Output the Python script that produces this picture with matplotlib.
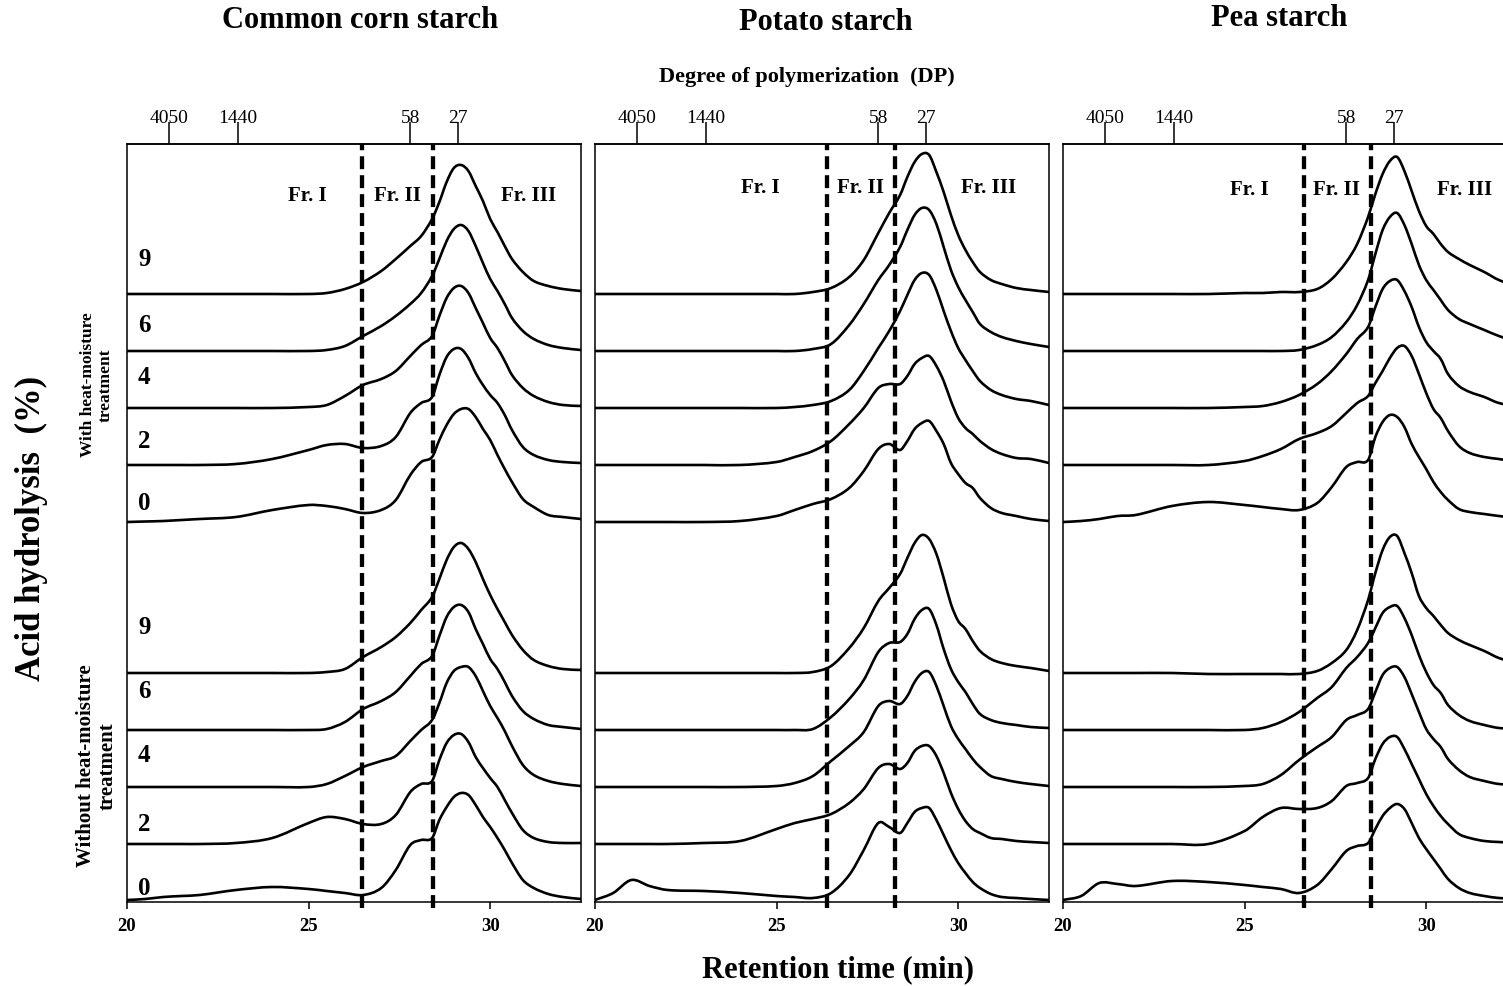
import matplotlib
matplotlib.use("Agg")
import matplotlib.pyplot as plt
from matplotlib.path import Path
from matplotlib.patches import PathPatch

plt.rcParams["font.family"] = ["Liberation Serif", "DejaVu Serif"]

# retention time grid (min) shared by every chromatogram
RT = [20.0, 20.5, 21.0, 21.5, 22.0, 23.0, 24.0, 25.0, 25.5, 26.0, 26.5, 27.0,
      27.4, 27.8, 28.1, 28.4, 28.6, 28.8, 29.0, 29.2, 29.4, 29.6, 29.8, 30.0,
      30.2, 30.4, 30.6, 30.9, 31.2, 31.6, 32.0, 32.5]

LEVELS = ["9", "6", "4", "2", "0"]

# baseline of each trace (stack offset), top to bottom
BASE_WITH = [608, 551, 494, 437, 380]
BASE_WITHOUT = [229, 172, 115, 58, 2]

DP_TICKS = [21.15, 23.05, 27.8, 29.1]
DP_LABELS = ["4050", "1440", "58", "27"]

# detector response above baseline, rows ordered 9, 6, 4, 2, 0 % hydrolysis
CORN_WITH = [
    [0, 0, 0, 0, 0, 0, 0, 0, 1, 5, 12, 23, 35, 48, 58, 75, 92, 112, 126, 129, 123, 108, 93, 75, 62, 48, 35, 22, 13, 8, 5, 3],
    [0, 0, 0, 0, 0, 0, 0, 0, 1, 5, 15, 25, 35, 47, 58, 75, 92, 110, 122, 126, 120, 105, 88, 72, 60, 47, 33, 20, 12, 6, 3, 1],
    [0, 0, 0, 0, 0, 0, 0, 1, 3, 12, 23, 29, 37, 52, 63, 72, 92, 110, 120, 122, 115, 100, 85, 70, 60, 47, 33, 20, 12, 6, 3, 2],
    [0, 0, 0, 0, 0, 1, 6, 15, 20, 21, 17, 19, 28, 52, 62, 68, 90, 108, 116, 116, 107, 92, 80, 70, 62, 50, 35, 18, 10, 5, 3, 2],
    [0, 0.5, 1, 2, 3, 5, 12, 17, 16, 13, 9, 12, 22, 47, 60, 65, 82, 97, 108, 113, 113, 105, 93, 82, 67, 53, 40, 23, 15, 7, 5, 3],
]
CORN_WITHOUT = [
    [0, 0, 0, 0, 0, 0, 0, 0, 1, 4, 16, 26, 36, 50, 63, 76, 94, 113, 126, 130, 124, 111, 94, 78, 64, 51, 38, 23, 13, 7, 4, 3],
    [0, 0, 0, 0, 0, 0, 0, 0, 1, 8, 21, 29, 38, 54, 66, 74, 94, 113, 123, 125, 118, 101, 86, 71, 61, 48, 34, 19, 11, 5, 3, 1],
    [0, 0, 0, 0, 0, 0, 0, 0, 3, 11, 20, 26, 31, 46, 57, 67, 84, 104, 116, 120, 120, 111, 96, 81, 69, 56, 41, 22, 12, 6, 3, 1],
    [0, 0, 0, 0, 0, 1, 6, 21, 27, 25, 20, 20, 29, 52, 60, 63, 84, 101, 109, 110, 102, 87, 76, 66, 57, 44, 31, 14, 6, 2, 1, 1],
    [0, 1, 3, 4, 5, 10, 13, 11, 9, 7, 5, 12, 30, 55, 60, 62, 80, 93, 103, 107, 105, 95, 83, 73, 62, 50, 37, 20, 12, 6, 3, 1],
]

POTATO_WITH = [
    [0, 0, 0, 0, 0, 0, 0, 0, 0, 2, 6, 17, 34, 61, 81, 99, 117, 132, 140, 139, 122, 102, 79, 59, 44, 32, 22, 14, 10, 6, 4, 2],
    [0, 0, 0, 0, 0, 0, 0, 0, 0, 2, 7, 26, 47, 71, 86, 104, 121, 136, 143, 141, 127, 104, 81, 64, 51, 39, 27, 19, 14, 10, 7, 4],
    [0, 0, 0, 0, 0, 0, 0, 0, 1, 3, 7, 18, 37, 60, 77, 97, 113, 128, 135, 133, 118, 97, 77, 60, 48, 37, 27, 18, 13, 9, 7, 3],
    [0, 0, 0, 0, 0, 0, 0, 3, 8, 14, 24, 41, 57, 77, 81, 81, 89, 101, 107, 109, 99, 84, 64, 47, 37, 31, 24, 16, 11, 7, 6, 2],
    [0, 0, 0, 0, 0, 0, 1, 6, 12, 18, 23, 34, 51, 73, 78, 72, 81, 93, 99, 101, 91, 78, 59, 48, 39, 34, 24, 14, 9, 6, 3, 1],
]
POTATO_WITHOUT = [
    [0, 0, 0, 0, 0, 0, 0, 0, 0, 1, 7, 25, 45, 72, 85, 99, 115, 130, 138, 134, 119, 95, 69, 52, 44, 32, 22, 14, 10, 7, 5, 2],
    [0, 0, 0, 0, 0, 0, 0, 0, 0, 1, 13, 31, 50, 78, 87, 88, 96, 111, 120, 121, 105, 81, 61, 48, 38, 26, 16, 10, 7, 5, 3, 2],
    [0, 0, 0, 0, 0, 0, 0, 1, 4, 11, 26, 41, 55, 81, 86, 83, 91, 105, 114, 115, 101, 81, 61, 48, 38, 28, 20, 11, 8, 5, 3, 1],
    [0, 0, 0, 0, 0, 1, 3, 15, 21, 25, 30, 41, 55, 76, 80, 75, 81, 93, 98, 98, 88, 71, 51, 35, 23, 15, 11, 6, 5, 3, 2, 1],
    [0, 7, 20, 14, 10, 9, 7, 4, 3, 2, 7, 25, 50, 77, 73, 67, 77, 88, 92, 92, 80, 65, 50, 37, 27, 18, 12, 6, 3, 2, 1, 0],
]

PEA_WITH = [
    [0, 0, 0, 0, 0, 0, 0, 1, 1, 2, 2, 5, 15, 32, 50, 77, 100, 120, 133, 137, 123, 103, 83, 68, 60, 50, 42, 35, 29, 22, 14, 8],
    [0, 0, 0, 0, 0, 0, 0, 0, 0, 0, 1, 6, 14, 29, 46, 71, 97, 121, 134, 138, 126, 107, 86, 71, 61, 51, 41, 32, 27, 21, 15, 9],
    [0, 0, 0, 0, 0, 0, 0, 1, 2, 6, 13, 24, 37, 54, 69, 81, 101, 119, 127, 128, 117, 101, 81, 66, 57, 49, 34, 22, 16, 11, 5, 2],
    [0, 0, 0, 0, 0, 0, 0, 4, 9, 16, 26, 32, 39, 52, 62, 69, 82, 94, 107, 117, 119, 109, 91, 72, 56, 47, 34, 19, 12, 8, 6, 3],
    [0, 1, 3, 6, 7, 16, 20, 17, 15, 13, 12, 19, 35, 55, 60, 62, 85, 100, 107, 105, 95, 78, 65, 53, 40, 30, 22, 13, 10, 8, 6, 4],
]
PEA_WITHOUT = [
    [0, 0, 0, 0, 0, 0, -1, -1, -1, -1, -1, 2, 10, 23, 43, 73, 100, 123, 136, 137, 120, 100, 77, 65, 57, 48, 40, 33, 28, 22, 15, 10],
    [0, 0, 0, 0, 0, 0, 0, 0, 2, 8, 18, 32, 43, 62, 73, 87, 102, 117, 123, 124, 112, 95, 75, 58, 45, 37, 25, 15, 9, 5, 2, 1],
    [0, 0, 0, 0, 0, 0, 0, 1, 3, 12, 27, 40, 50, 67, 72, 78, 95, 112, 119, 120, 110, 93, 75, 58, 48, 40, 28, 17, 10, 6, 3, 2],
    [0, 0, 0, 0, 0, 0, 0, 13, 27, 36, 35, 36, 43, 58, 61, 66, 85, 100, 107, 107, 95, 80, 65, 50, 38, 28, 20, 10, 6, 3, 2, 1],
    [0, 4, 17, 16, 14, 19, 18, 15, 13, 11, 7, 15, 31, 49, 54, 57, 71, 84, 92, 96, 91, 77, 62, 51, 41, 31, 21, 12, 7, 4, 2, 1],
]

# panel title, traces with / without HMT, fraction boundaries (min)
PANELS = [
    ("Common corn starch", CORN_WITH, CORN_WITHOUT, (26.47, 28.43)),
    ("Potato starch", POTATO_WITH, POTATO_WITHOUT, (26.38, 28.27)),
    ("Pea starch", PEA_WITH, PEA_WITHOUT, (26.63, 28.48)),
]

W, H = 1503, 987


def fx(px):
    return px / W


def fy(py):
    return 1 - py / H


def smooth_path(xs, ys):
    """Smoothed line through the points (cubic Hermite drawn as Bezier)."""
    n = len(xs)
    slopes = []
    for k in range(n):
        a = max(k - 1, 0)
        b = min(k + 1, n - 1)
        slopes.append((ys[b] - ys[a]) / (xs[b] - xs[a]))
    verts = [(xs[0], ys[0])]
    codes = [Path.MOVETO]
    for k in range(n - 1):
        h = xs[k + 1] - xs[k]
        verts += [(xs[k] + h / 3, ys[k] + slopes[k] * h / 3),
                  (xs[k + 1] - h / 3, ys[k + 1] - slopes[k + 1] * h / 3),
                  (xs[k + 1], ys[k + 1])]
        codes += [Path.CURVE4] * 3
    return Path(verts, codes)


fig = plt.figure(figsize=(W / 100, H / 100), dpi=100)

panel_left = [127, 595, 1063]
title_pos = [(360, 20), (826, 23), (1279, 19)]
fr_pos = [((24.96, 27.44, 31.05), 707), ((24.56, 27.31, 30.85), 715),
          ((25.14, 27.53, 31.07), 713)]

for i, (title, with_hmt, without_hmt, bounds) in enumerate(PANELS):
    ax = fig.add_axes([fx(panel_left[i]), fy(903), fx(454), 758 / H])
    for rows, bases in ((with_hmt, BASE_WITH), (without_hmt, BASE_WITHOUT)):
        for row, base in zip(rows, bases):
            trace = smooth_path(RT, [base + v for v in row])
            ax.add_patch(PathPatch(trace, fill=False, edgecolor="black",
                                   lw=1.9, joinstyle="round",
                                   capstyle="round"))
    for b in bounds:
        ax.axvline(b, ymin=-0.008, ymax=1, color="black", lw=3.1,
                   ls=(0, (3.0, 1.4)), clip_on=False, zorder=3)

    ax.set_xlim(20, 32.5)
    ax.set_ylim(0, 758)
    ax.set_yticks([])
    ax.set_xticks([20, 25, 30])
    ax.set_xticklabels(["20", "25", "30"], fontsize=13.5, fontweight="bold")
    ax.tick_params(axis="x", direction="out", length=5, width=1.1, pad=6)
    for s in ax.spines.values():
        s.set_linewidth(1.1)

    top = ax.secondary_xaxis("top")
    top.set_xticks(DP_TICKS)
    top.set_xticklabels(DP_LABELS, fontsize=14)
    top.tick_params(direction="out", length=16, width=1.1, pad=-3)
    top.spines["top"].set_linewidth(1.1)

    xs, ylab = fr_pos[i]
    for x, lab in zip(xs, ["Fr. I", "Fr. II", "Fr. III"]):
        ax.text(x, ylab, lab, fontsize=15, fontweight="bold",
                ha="center", va="center")

    tx, ty = title_pos[i]
    fig.text(fx(tx), fy(ty), title, fontsize=22, fontweight="bold",
             ha="center", va="center")

    if i == 0:
        label_y = [644, 578, 525, 461, 400, 275, 211, 147, 78, 14]
        for lab, yy in zip(LEVELS + LEVELS, label_y):
            ax.text(20.48, yy, lab, fontsize=18, fontweight="bold",
                    ha="center", va="center")

fig.text(fx(807), fy(77), "Degree of polymerization  (DP)", fontsize=16,
         fontweight="bold", ha="center", va="center")
fig.text(fx(838), fy(970), "Retention time (min)", fontsize=22,
         fontweight="bold", ha="center", va="center")
fig.text(fx(31), fy(528), "Acid hydrolysis  (%)", fontsize=25,
         fontweight="bold", ha="center", va="center", rotation=90)
fig.text(fx(97), fy(385), "With heat-moisture\ntreatment", fontsize=12.5,
         fontweight="bold", ha="center", va="center", rotation=90,
         linespacing=1.1)
fig.text(fx(97), fy(766), "Without heat-moisture\ntreatment", fontsize=15,
         fontweight="bold", ha="center", va="center", rotation=90,
         linespacing=1.1)

fig.savefig("out.png", dpi=100)
